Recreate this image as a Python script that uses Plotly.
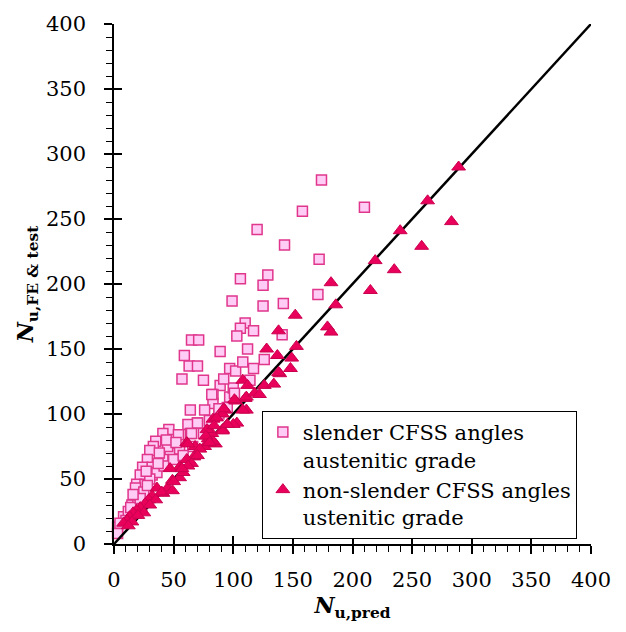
import plotly.graph_objects as go

# slender CFSS angles, austenitic grade (squares)
sq_x = [174, 158, 210, 120, 143, 172, 106, 129, 125, 99, 125, 142, 171, 110, 106, 117, 103, 141,
        65, 71, 89, 59, 63, 70, 97, 102, 117, 126, 57, 75, 89, 114,
        83, 97, 83, 64, 76, 88, 70, 62, 46, 41, 54, 64, 35, 33, 47, 30, 55, 66, 28, 41, 24, 32,
        22, 32, 19, 26, 18, 18, 15, 8, 3, 3, 12, 20, 10, 5, 25, 36, 42, 50, 58, 75, 80, 95,
        100, 108, 92, 112, 45, 38, 30, 14, 22, 28, 101, 82, 70, 65, 88, 27, 37, 16, 44, 52]
sq_y = [280, 256, 259, 242, 230, 219, 204, 207, 199, 187, 183, 185, 192, 170, 166, 164, 160, 161,
        157, 157, 148, 145, 137, 137, 135, 133, 135, 142, 127, 126, 122, 126,
        115, 113, 108, 103, 103, 100, 93, 92, 88, 85, 84, 85, 79, 75, 70, 72, 73, 75, 65, 65, 59, 59,
        53, 53, 46, 46, 43, 36, 30, 21, 13, 8, 25, 30, 18, 16, 40, 55, 60, 65, 68, 85, 95, 105,
        120, 140, 127, 150, 75, 70, 50, 28, 35, 45, 116, 115, 93, 85, 104, 56, 62, 38, 80, 78]

# non-slender CFSS angles, austenitic grade (triangles)
tr_x = [289, 263, 283, 240, 258, 219, 235, 182, 215, 186, 152, 179, 182, 138, 153, 149, 148, 139,
        128, 137, 138, 108, 112, 126, 134,
        110, 102, 111, 93, 91, 103, 100, 83, 91, 82, 78, 79, 61, 68, 76, 85, 101, 111, 92, 108,
        86, 91, 84, 83, 77, 72, 62, 67, 61, 65, 55, 47, 55, 49, 45, 36, 41, 32, 29, 26, 22, 19,
        16, 13, 11, 8, 70, 58, 50, 40, 35, 30, 25, 20, 15, 12, 62, 80, 95, 118, 122, 57, 49]
tr_y = [290, 264, 248, 241, 229, 218, 211, 201, 195, 184, 176, 167, 163, 164, 152, 143, 135, 131,
        150, 145, 132, 126, 122, 122, 123,
        112, 110, 103, 103, 100, 93, 92, 96, 88, 85, 88, 81, 78, 75, 75, 77, 111, 113, 104, 103,
        97, 87, 91, 79, 83, 73, 77, 67, 65, 62, 59, 58, 51, 49, 43, 43, 39, 37, 34, 31, 28, 26,
        24, 21, 18, 16, 68, 55, 48, 40, 34, 30, 24, 22, 17, 14, 60, 78, 92, 116, 115, 58, 41]

line_x = [0, 400]
line_y = [0, 400]

tick_vals = [0, 50, 100, 150, 200, 250, 300, 350, 400]
tick_text = [str(v) for v in tick_vals]

FONT = "DejaVu Serif"

fig = go.Figure()
fig.add_trace(go.Scatter(
    x=sq_x, y=sq_y, mode="markers", cliponaxis=False,
    name="slender CFSS angles<br>austenitic grade",
    marker=dict(symbol="square", size=10, color="#FFCCF5",
                line=dict(color="#E0368C", width=1.5)),
))
fig.add_trace(go.Scatter(
    x=line_x, y=line_y, mode="lines", showlegend=False, cliponaxis=False,
    line=dict(color="black", width=2.5),
))
fig.add_trace(go.Scatter(
    x=tr_x, y=tr_y, mode="markers", cliponaxis=False,
    name="non-slender CFSS angles<br>ustenitic grade",
    marker=dict(symbol="triangle-up", size=12, color="#E8005A",
                line=dict(color="#CC0050", width=1)),
))
# invisible trace to carry the overlay axes (inner half of major ticks)
fig.add_trace(go.Scatter(x=[None], y=[None], xaxis="x2", yaxis="y2",
                         showlegend=False, hoverinfo="skip"))

axis_common = dict(
    range=[0, 400], tickvals=tick_vals, ticktext=tick_text,
    showgrid=False, zeroline=False, showline=True, linecolor="black", linewidth=1.5,
    ticks="outside", ticklen=8, tickwidth=1.5, tickcolor="black",
    minor=dict(dtick=10, tick0=0, ticks="outside", ticklen=6, tickwidth=1, tickcolor="black"),
    tickfont=dict(family=FONT, size=21, color="black"),
)

fig.update_layout(
    width=626, height=632,
    margin=dict(l=114, r=35, t=18, b=88),
    paper_bgcolor="white", plot_bgcolor="white",
    font=dict(family=FONT, color="black"),
    xaxis=dict(**axis_common, ticklabelstandoff=8,
               title=dict(text="<b><i>N</i></b><sub><b>u,pred</b></sub>",
                          font=dict(family=FONT, size=22), standoff=4)),
    yaxis=dict(**axis_common, ticklabelstandoff=14,
               title=dict(text="<b><i>N</i></b><sub><b>u,FE &amp; test</b></sub>",
                          font=dict(family=FONT, size=22), standoff=6)),
    xaxis2=dict(overlaying="x", anchor="y", range=[0, 400], tickvals=tick_vals,
                showticklabels=False, showgrid=False, zeroline=False, showline=False,
                ticks="inside", ticklen=8, tickwidth=1.5, tickcolor="black"),
    yaxis2=dict(overlaying="y", anchor="x", range=[0, 400], tickvals=tick_vals,
                showticklabels=False, showgrid=False, zeroline=False, showline=False,
                ticks="inside", ticklen=8, tickwidth=1.5, tickcolor="black"),
    legend=dict(x=0.31, y=0.256, xanchor="left", yanchor="top",
                bordercolor="black", borderwidth=1, bgcolor="white",
                font=dict(family=FONT, size=21, color="black"),
                valign="top", tracegroupgap=0, itemwidth=30),
    showlegend=True,
)

fig.write_html("out.html")
